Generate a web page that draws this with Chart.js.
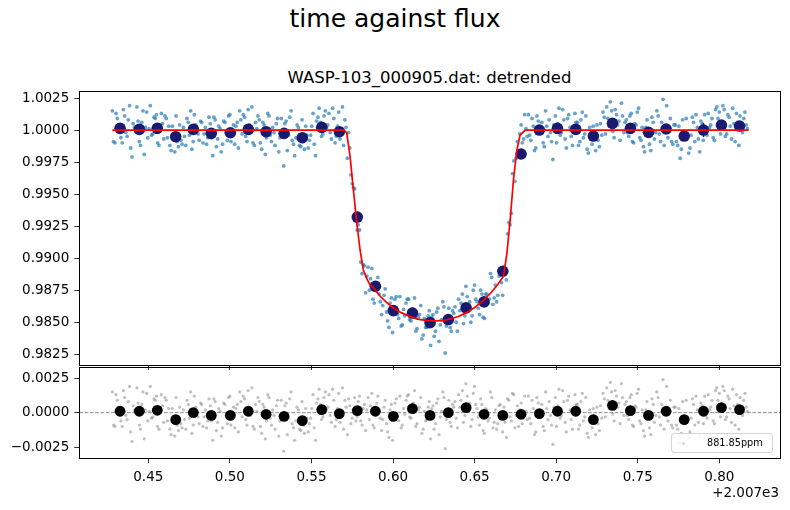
<!DOCTYPE html>
<html>
<head>
<meta charset="utf-8">
<script src="https://cdn.jsdelivr.net/npm/chart.js@4.4.0/dist/chart.umd.min.js"></script>
<style>
  body { margin: 0; background: #fff; width: 790px; height: 510px; position: relative; overflow: hidden; font-family: 'DejaVu Sans', sans-serif; }
  canvas { position: absolute; left: 0; }
  #topChart { top: 0; }
  #resChart { top: 340px; }
  .txt { position: absolute; white-space: nowrap; color: #000; }
  #suptitle { left: 0; width: 790px; text-align: center; top: 4px; font-size: 25px; line-height: 30px; }
  #axTitle { left: 79px; width: 701px; text-align: center; top: 68px; font-size: 16.5px; line-height: 20px; }
  #offset { right: 11px; top: 484px; font-size: 13.5px; line-height: 17px; }
  #legend { position: absolute; left: 671px; top: 433px; width: 100px; height: 18px; border: 1px solid #d4d4d4; border-radius: 3px; background: rgba(255,255,255,0.8); }
  #legend .dot { position: absolute; left: 10px; top: 8px; width: 3px; height: 3px; border-radius: 50%; background: rgba(128,128,128,0.3); }
  #legend .lbl { position: absolute; left: 35px; top: 3px; font-size: 9.7px; line-height: 12px; }
</style>
</head>
<body>
<div class="txt" id="suptitle">time against flux</div>
<div class="txt" id="axTitle">WASP-103_000905.dat: detrended</div>
<canvas id="topChart" width="790" height="390"></canvas>
<canvas id="resChart" width="790" height="170"></canvas>
<div class="txt" id="offset">+2.007e3</div>
<div id="legend"><div class="dot"></div><div class="txt lbl" id="legendLabel"></div></div>
<script>
// observation times (offset from 2007), first set of exposures
const time = [
  0.4280,0.4295,0.4310,0.4325,0.4340,0.4355,0.4370,0.4385,0.4400,0.4415,
  0.4430,0.4445,0.4460,0.4475,0.4490,0.4505,0.4520,0.4535,0.4550,0.4565,
  0.4580,0.4595,0.4610,0.4625,0.4640,0.4655,0.4670,0.4685,0.4700,0.4715,
  0.4730,0.4745,0.4760,0.4775,0.4790,0.4805,0.4820,0.4835,0.4850,0.4865,
  0.4880,0.4895,0.4910,0.4925,0.4940,0.4955,0.4970,0.4985,0.5000,0.5015,
  0.5030,0.5045,0.5060,0.5075,0.5090,0.5105,0.5120,0.5135,0.5150,0.5165,
  0.5180,0.5195,0.5210,0.5225,0.5240,0.5255,0.5270,0.5285,0.5300,0.5315,
  0.5330,0.5345,0.5360,0.5375,0.5390,0.5405,0.5420,0.5435,0.5450,0.5465,
  0.5480,0.5495,0.5510,0.5525,0.5540,0.5555,0.5570,0.5585,0.5600,0.5615,
  0.5630,0.5645,0.5660,0.5675,0.5690,0.5705,0.5720,0.5735,0.5750,0.5765,
  0.5780,0.5795,0.5810,0.5825,0.5840,0.5855,0.5870,0.5885,0.5900,0.5915,
  0.5930,0.5945,0.5960,0.5975,0.5990,0.6005,0.6020,0.6035,0.6050,0.6065,
  0.6080,0.6095,0.6110,0.6125,0.6140,0.6155,0.6170,0.6185,0.6200,0.6215,
  0.6230,0.6245,0.6260,0.6275,0.6290,0.6305,0.6320,0.6335,0.6350,0.6365,
  0.6380,0.6395,0.6410,0.6425,0.6440,0.6455,0.6470,0.6485,0.6500,0.6515,
  0.6530,0.6545,0.6560,0.6575,0.6590,0.6605,0.6620,0.6635,0.6650,0.6665,
  0.6680,0.6695,0.6710,0.6725,0.6740,0.6755,0.6770,0.6785,0.6800,0.6815,
  0.6830,0.6845,0.6860,0.6875,0.6890,0.6905,0.6920,0.6935,0.6950,0.6965,
  0.6980,0.6995,0.7010,0.7025,0.7040,0.7055,0.7070,0.7085,0.7100,0.7115,
  0.7130,0.7145,0.7160,0.7175,0.7190,0.7205,0.7220,0.7235,0.7250,0.7265,
  0.7280,0.7295,0.7310,0.7325,0.7340,0.7355,0.7370,0.7385,0.7400,0.7415,
  0.7430,0.7445,0.7460,0.7475,0.7490,0.7505,0.7520,0.7535,0.7550,0.7565,
  0.7580,0.7595,0.7610,0.7625,0.7640,0.7655,0.7670,0.7685,0.7700,0.7715,
  0.7730,0.7745,0.7760,0.7775,0.7790,0.7805,0.7820,0.7835,0.7850,0.7865,
  0.7880,0.7895,0.7910,0.7925,0.7940,0.7955,0.7970,0.7985,0.8000,0.8015,
  0.8030,0.8045,0.8060,0.8075,0.8090,0.8105,0.8120,0.8135,0.8150,0.8165
];
const flux = [
  1.0015,0.9990,1.0009,1.0003,0.9990,1.0011,0.9995,1.0019,0.9979,1.0002,
  1.0018,0.9991,1.0006,0.9981,1.0014,1.0001,0.9996,1.0010,1.0012,0.9988,
  1.0013,0.9993,1.0009,1.0003,0.9984,0.9996,1.0011,0.9987,0.9992,1.0002,
  0.9988,1.0006,1.0015,0.9991,1.0004,0.9997,1.0007,0.9990,1.0002,0.9994,
  1.0005,0.9980,1.0008,0.9993,1.0001,0.9989,1.0006,0.9992,1.0012,0.9996,
  0.9989,1.0006,1.0015,0.9997,1.0010,0.9991,1.0004,1.0018,0.9988,1.0001,
  1.0008,0.9985,1.0004,0.9994,1.0011,0.9991,0.9998,1.0005,0.9983,1.0009,
  0.9972,1.0007,0.9996,1.0015,0.9989,0.9994,1.0002,0.9987,0.9991,1.0003,
  0.9986,0.9996,1.0013,0.9980,1.0010,1.0006,0.9997,1.0015,1.0004,0.9998,
  1.0017,0.9990,1.0003,0.9993,1.0018,1.0008,0.9978,0.9986,0.9958,0.9954,
  0.9922,0.9922,0.9888,0.9894,0.9886,0.9875,0.9892,0.9865,0.9881,0.9872,
  0.9856,0.9871,0.9858,0.9846,0.9869,0.9859,0.9870,0.9853,0.9847,0.9860,
  0.9865,0.9868,0.9851,0.9860,0.9843,0.9854,0.9863,0.9840,0.9846,0.9855,
  0.9832,0.9856,0.9843,0.9861,0.9848,0.9866,0.9826,0.9854,0.9846,0.9859,
  0.9862,0.9843,0.9859,0.9872,0.9855,0.9870,0.9866,0.9855,0.9879,0.9866,
  0.9856,0.9872,0.9853,0.9872,0.9868,0.9885,0.9869,0.9866,0.9886,0.9881,
  0.9893,0.9883,0.9928,0.9935,0.9976,0.9978,0.9981,1.0004,0.9993,1.0001,
  1.0012,0.9992,1.0003,0.9986,1.0007,1.0001,0.9990,1.0015,0.9995,0.9998,
  0.9977,1.0011,1.0005,0.9996,1.0016,0.9993,1.0009,1.0002,0.9988,1.0013,
  1.0006,0.9991,1.0014,0.9997,0.9985,1.0002,0.9989,0.9994,1.0004,0.9987,
  0.9996,1.0010,1.0018,1.0003,1.0015,0.9994,1.0012,1.0007,1.0021,0.9998,
  1.0008,0.9995,1.0013,0.9990,1.0004,1.0017,0.9992,0.9987,1.0002,0.9996,
  0.9984,1.0006,0.9998,1.0011,0.9991,1.0024,1.0003,0.9994,1.0009,0.9989,
  1.0004,0.9988,0.9978,1.0008,0.9993,0.9997,0.9986,1.0010,0.9991,1.0002,
  0.9983,1.0005,1.0012,0.9996,1.0002,1.0009,0.9992,1.0018,1.0014,1.0006,
  1.0016,0.9997,1.0010,0.9993,1.0005,1.0013,0.9988,1.0002,1.0009,1.0004
];
const resid = [
  0.0015,-0.0010,0.0009,0.0003,-0.0010,0.0011,-0.0005,0.0019,-0.0021,0.0002,
  0.0018,-0.0009,0.0006,-0.0019,0.0014,0.0001,-0.0004,0.0010,0.0012,-0.0012,
  0.0013,-0.0007,0.0009,0.0003,-0.0016,-0.0004,0.0011,-0.0013,-0.0008,0.0002,
  -0.0012,0.0006,0.0015,-0.0009,0.0004,-0.0003,0.0007,-0.0010,0.0002,-0.0006,
  0.0005,-0.0020,0.0008,-0.0007,0.0001,-0.0011,0.0006,-0.0008,0.0012,-0.0004,
  -0.0011,0.0006,0.0015,-0.0003,0.0010,-0.0009,0.0004,0.0018,-0.0012,0.0001,
  0.0008,-0.0015,0.0004,-0.0006,0.0011,-0.0009,-0.0002,0.0005,-0.0017,0.0009,
  -0.0028,0.0007,-0.0004,0.0015,-0.0011,-0.0006,0.0002,-0.0013,-0.0009,0.0003,
  -0.0014,-0.0004,0.0013,-0.0020,0.0010,0.0006,-0.0003,0.0015,0.0004,-0.0002,
  0.0017,-0.0010,0.0003,-0.0007,0.0018,0.0009,-0.0016,0.0005,-0.0004,0.0011,
  -0.0003,0.0012,-0.0009,0.0006,0.0002,-0.0005,0.0014,-0.0011,0.0007,0.0001,
  -0.0013,0.0004,-0.0008,-0.0018,0.0006,-0.0002,0.0010,-0.0006,-0.0011,0.0003,
  0.0009,0.0013,-0.0004,0.0007,-0.0010,0.0002,0.0011,-0.0012,-0.0006,0.0004,
  -0.0019,0.0005,-0.0008,0.0010,-0.0003,0.0015,-0.0026,0.0002,-0.0007,0.0006,
  0.0008,-0.0011,0.0004,0.0016,-0.0002,0.0012,0.0007,-0.0005,0.0019,0.0003,
  -0.0009,0.0006,-0.0015,0.0002,-0.0004,0.0011,-0.0007,-0.0012,0.0005,-0.0003,
  0.0004,-0.0018,0.0009,-0.0006,0.0013,-0.0002,-0.0010,0.0007,-0.0004,0.0001,
  0.0012,-0.0008,0.0003,-0.0014,0.0007,0.0001,-0.0010,0.0015,-0.0005,-0.0002,
  -0.0023,0.0011,0.0005,-0.0004,0.0016,-0.0007,0.0009,0.0002,-0.0012,0.0013,
  0.0006,-0.0009,0.0014,-0.0003,-0.0015,0.0002,-0.0011,-0.0006,0.0004,-0.0013,
  -0.0004,0.0010,0.0018,0.0003,0.0015,-0.0006,0.0012,0.0007,0.0021,-0.0002,
  0.0008,-0.0005,0.0013,-0.0010,0.0004,0.0017,-0.0008,-0.0013,0.0002,-0.0004,
  -0.0016,0.0006,-0.0002,0.0011,-0.0009,0.0024,0.0003,-0.0006,0.0009,-0.0011,
  0.0004,-0.0012,-0.0022,0.0008,-0.0007,-0.0003,-0.0014,0.0010,-0.0009,0.0002,
  -0.0017,0.0005,0.0012,-0.0004,0.0002,0.0009,-0.0008,0.0018,0.0014,0.0006,
  0.0016,-0.0003,0.0010,-0.0007,0.0005,0.0013,-0.0012,0.0002,0.0009,0.0004
];

// second, interleaved set of exposures
const time2 = [
  0.4287,0.4302,0.4317,0.4332,0.4347,0.4362,0.4377,0.4392,0.4407,0.4422,
  0.4437,0.4452,0.4467,0.4482,0.4497,0.4512,0.4527,0.4542,0.4557,0.4572,
  0.4587,0.4602,0.4617,0.4632,0.4647,0.4662,0.4677,0.4692,0.4707,0.4722,
  0.4737,0.4752,0.4767,0.4782,0.4797,0.4812,0.4827,0.4842,0.4857,0.4872,
  0.4887,0.4902,0.4917,0.4932,0.4947,0.4962,0.4977,0.4992,0.5007,0.5022,
  0.5037,0.5052,0.5067,0.5082,0.5097,0.5112,0.5127,0.5142,0.5157,0.5172,
  0.5187,0.5202,0.5217,0.5232,0.5247,0.5262,0.5277,0.5292,0.5307,0.5322,
  0.5337,0.5352,0.5367,0.5382,0.5397,0.5412,0.5427,0.5442,0.5457,0.5472,
  0.5487,0.5502,0.5517,0.5532,0.5547,0.5562,0.5577,0.5592,0.5607,0.5622,
  0.5637,0.5652,0.5667,0.5682,0.5697,0.5712,0.5727,0.5742,0.5757,0.5772,
  0.5787,0.5802,0.5817,0.5832,0.5847,0.5862,0.5877,0.5892,0.5907,0.5922,
  0.5937,0.5952,0.5967,0.5982,0.5997,0.6012,0.6027,0.6042,0.6057,0.6072,
  0.6087,0.6102,0.6117,0.6132,0.6147,0.6162,0.6177,0.6192,0.6207,0.6222,
  0.6237,0.6252,0.6267,0.6282,0.6297,0.6312,0.6327,0.6342,0.6357,0.6372,
  0.6387,0.6402,0.6417,0.6432,0.6447,0.6462,0.6477,0.6492,0.6507,0.6522,
  0.6537,0.6552,0.6567,0.6582,0.6597,0.6612,0.6627,0.6642,0.6657,0.6672,
  0.6687,0.6702,0.6717,0.6732,0.6747,0.6762,0.6777,0.6792,0.6807,0.6822,
  0.6837,0.6852,0.6867,0.6882,0.6897,0.6912,0.6927,0.6942,0.6957,0.6972,
  0.6987,0.7002,0.7017,0.7032,0.7047,0.7062,0.7077,0.7092,0.7107,0.7122,
  0.7137,0.7152,0.7167,0.7182,0.7197,0.7212,0.7227,0.7242,0.7257,0.7272,
  0.7287,0.7302,0.7317,0.7332,0.7347,0.7362,0.7377,0.7392,0.7407,0.7422,
  0.7437,0.7452,0.7467,0.7482,0.7497,0.7512,0.7527,0.7542,0.7557,0.7572,
  0.7587,0.7602,0.7617,0.7632,0.7647,0.7662,0.7677,0.7692,0.7707,0.7722,
  0.7737,0.7752,0.7767,0.7782,0.7797,0.7812,0.7827,0.7842,0.7857,0.7872,
  0.7887,0.7902,0.7917,0.7932,0.7947,0.7962,0.7977,0.7992,0.8007,0.8022,
  0.8037,0.8052,0.8067,0.8082,0.8097,0.8112,0.8127,0.8142,0.8157,0.8172
];
const flux2 = [
  0.9991,1.0013,1.0004,0.9994,1.0016,0.9998,1.0008,0.9986,1.0005,1.0001,
  1.0007,0.9988,1.0015,1.0002,0.9994,1.0019,0.9997,1.0009,0.9990,1.0004,
  1.0005,1.0011,0.9994,0.9988,1.0003,0.9983,0.9991,1.0004,0.9989,0.9995,
  1.0009,0.9996,0.9985,1.0012,1.0001,0.9992,1.0006,0.9997,0.9989,1.0010,
  0.9994,1.0010,0.9987,1.0003,0.9983,1.0007,0.9998,1.0011,0.9991,1.0004,
  1.0003,0.9986,1.0008,1.0012,0.9995,1.0016,0.9998,0.9990,1.0006,1.0011,
  0.9990,1.0006,0.9981,1.0013,0.9996,1.0002,0.9988,1.0009,0.9994,0.9999,
  1.0005,0.9984,1.0010,0.9992,0.9980,1.0004,0.9988,1.0008,0.9985,0.9996,
  0.9992,1.0003,0.9989,1.0007,1.0017,0.9995,1.0011,1.0002,1.0013,0.9993,
  1.0009,0.9995,1.0014,1.0001,0.9988,1.0002,0.9998,0.9965,0.9955,0.9929,
  0.9926,0.9897,0.9895,0.9873,0.9893,0.9884,0.9868,0.9877,0.9885,0.9866,
  0.9863,0.9876,0.9851,0.9865,0.9842,0.9868,0.9856,0.9870,0.9848,0.9855,
  0.9868,0.9852,0.9860,0.9869,0.9845,0.9856,0.9837,0.9853,0.9846,0.9859,
  0.9854,0.9839,0.9858,0.9835,0.9852,0.9862,0.9847,0.9861,0.9843,0.9857,
  0.9850,0.9868,0.9865,0.9849,0.9878,0.9861,0.9850,0.9875,0.9868,0.9861,
  0.9875,0.9854,0.9872,0.9865,0.9888,0.9864,0.9879,0.9871,0.9888,0.9871,
  0.9888,0.9919,0.9926,0.9966,0.9960,0.9991,0.9997,0.9990,1.0012,0.9995,
  0.9996,1.0009,0.9984,1.0011,0.9998,1.0006,0.9987,1.0003,1.0008,0.9991,
  1.0004,0.9990,1.0017,0.9998,1.0008,0.9986,1.0012,0.9995,1.0003,1.0006,
  0.9988,1.0008,0.9994,1.0011,0.9982,0.9996,1.0003,0.9984,0.9992,1.0005,
  1.0014,0.9997,1.0009,1.0022,0.9999,1.0016,1.0004,0.9992,1.0011,1.0006,
  0.9998,1.0011,0.9991,1.0005,1.0014,0.9994,1.0002,0.9983,1.0008,0.9989,
  1.0010,0.9993,1.0015,0.9997,1.0006,0.9988,1.0019,0.9999,0.9991,1.0004,
  0.9991,1.0003,0.9985,0.9994,1.0009,0.9982,0.9996,1.0006,1.0012,0.9993,
  1.0007,0.9992,0.9998,1.0013,1.0004,0.9994,1.0016,1.0009,0.9997,1.0019,
  0.9995,1.0012,1.0003,1.0017,0.9991,1.0006,1.0011,0.9998,1.0014,1.0001
];
const resid2 = [
  -0.0009,0.0013,0.0004,-0.0006,0.0016,-0.0002,0.0008,-0.0014,0.0005,0.0001,
  0.0007,-0.0012,0.0015,0.0002,-0.0006,0.0019,-0.0003,0.0009,-0.0010,0.0004,
  0.0005,0.0011,-0.0006,-0.0012,0.0003,-0.0017,-0.0009,0.0004,-0.0011,-0.0005,
  0.0009,-0.0004,-0.0015,0.0012,0.0001,-0.0008,0.0006,-0.0003,-0.0011,0.0010,
  -0.0006,0.0010,-0.0013,0.0003,-0.0017,0.0007,-0.0002,0.0011,-0.0009,0.0004,
  0.0003,-0.0014,0.0008,0.0012,-0.0005,0.0016,-0.0002,-0.0010,0.0006,0.0011,
  -0.0010,0.0006,-0.0019,0.0013,-0.0004,0.0002,-0.0012,0.0009,-0.0006,-0.0001,
  0.0005,-0.0016,0.0010,-0.0008,-0.0020,0.0004,-0.0012,0.0008,-0.0015,-0.0004,
  -0.0008,0.0003,-0.0011,0.0007,0.0017,-0.0005,0.0011,0.0002,0.0013,-0.0007,
  0.0009,-0.0005,0.0014,0.0001,-0.0012,0.0004,0.0010,-0.0008,0.0002,-0.0006,
  0.0008,-0.0006,0.0003,-0.0013,0.0011,0.0005,-0.0009,0.0002,0.0012,-0.0004,
  -0.0005,0.0009,-0.0014,0.0002,-0.0020,0.0007,-0.0003,0.0012,-0.0009,-0.0001,
  0.0012,-0.0003,0.0006,0.0016,-0.0008,0.0004,-0.0015,0.0001,-0.0005,0.0008,
  0.0003,-0.0012,0.0007,-0.0016,0.0001,0.0011,-0.0005,0.0009,-0.0010,0.0004,
  -0.0004,0.0013,0.0009,-0.0007,0.0021,0.0002,-0.0010,0.0014,0.0006,-0.0003,
  0.0010,-0.0013,0.0003,-0.0006,0.0015,-0.0011,0.0002,-0.0008,0.0006,-0.0014,
  -0.0007,0.0010,-0.0003,0.0014,-0.0011,0.0005,0.0002,-0.0008,0.0012,-0.0005,
  -0.0004,0.0009,-0.0016,0.0011,-0.0002,0.0006,-0.0013,0.0003,0.0008,-0.0009,
  0.0004,-0.0010,0.0017,-0.0002,0.0008,-0.0014,0.0012,-0.0005,0.0003,0.0006,
  -0.0012,0.0008,-0.0006,0.0011,-0.0018,-0.0004,0.0003,-0.0016,-0.0008,0.0005,
  0.0014,-0.0003,0.0009,0.0022,-0.0001,0.0016,0.0004,-0.0008,0.0011,0.0006,
  -0.0002,0.0011,-0.0009,0.0005,0.0014,-0.0006,0.0002,-0.0017,0.0008,-0.0011,
  0.0010,-0.0007,0.0015,-0.0003,0.0006,-0.0012,0.0019,-0.0001,-0.0009,0.0004,
  -0.0009,0.0003,-0.0015,-0.0006,0.0009,-0.0018,-0.0004,0.0006,0.0012,-0.0007,
  0.0007,-0.0008,-0.0002,0.0013,0.0004,-0.0006,0.0016,0.0009,-0.0003,0.0019,
  -0.0005,0.0012,0.0003,0.0017,-0.0009,0.0006,0.0011,-0.0002,0.0014,0.0001
];

// binned points
const binTime = [0.4327,0.4445,0.4555,0.4668,0.4776,0.4886,0.5003,0.5113,0.5222,0.5332,0.5444,0.5563,0.5671,0.5781,0.5892,0.6002,0.6119,0.6227,0.6339,0.6448,0.6558,0.6673,0.6785,0.6897,0.7008,0.7120,0.7228,0.7345,0.7455,0.7566,0.7674,0.7785,0.7903,0.8013,0.8124];
const binFlux = [1.00013,1.00005,1.00013,0.99948,1.00005,0.99974,0.99979,1.00005,0.99987,0.99974,0.99940,1.00021,0.99987,0.99321,0.98780,0.98591,0.98572,0.98497,0.98521,0.98612,0.98659,0.98898,0.99813,1.00000,1.00013,1.00005,0.99953,1.00052,1.00013,0.99982,1.00008,0.99953,1.00000,1.00039,1.00031];
const binErr = [0.0003,0.0003,0.0003,0.0003,0.0003,0.0003,0.0003,0.0003,0.0003,0.0003,0.0003,0.0003,0.0003,0.0003,0.0003,0.0003,0.0003,0.0003,0.0003,0.0003,0.0003,0.0003,0.0003,0.0003,0.0003,0.0003,0.0003,0.0003,0.0003,0.0003,0.0003,0.0003,0.00055,0.0003,0.0003];
const binResid = [0.0001,0.0001,0.00017,-0.00051,0.0,-0.0002,-0.0002,0.0001,-0.00012,-0.00027,-0.00058,0.00022,-0.00007,0.00015,0.0001,-0.00027,0.00029,-0.0002,0.0,0.00036,-0.00012,-0.0002,-0.00012,-0.00007,0.0001,0.0001,-0.00051,0.00053,0.00015,-0.0002,0.0001,-0.00051,0.0001,0.00036,0.00022];

// transit model
const modelTime = [0.4280,0.5700,0.5716,0.5737,0.5757,0.5778,0.5798,0.5818,0.5839,0.5860,0.5880,0.5920,0.5960,0.6000,0.6050,0.6100,0.6150,0.6200,0.6250,0.6300,0.6350,0.6400,0.6450,0.6500,0.6550,0.6600,0.6640,0.6677,0.6698,0.6718,0.6738,0.6759,0.6779,0.6810,0.8179];
const modelFlux = [1.0,1.0,0.99977,0.99790,0.99532,0.99274,0.99064,0.98908,0.98840,0.98790,0.98770,0.98705,0.98655,0.98615,0.98575,0.98548,0.98525,0.98515,0.98510,0.98512,0.98525,0.98545,0.98575,0.98615,0.98665,0.98730,0.98790,0.98860,0.99038,0.99298,0.99610,0.99844,0.99961,1.0,1.0];

// ticks
const xTicks = [0.45,0.50,0.55,0.60,0.65,0.70,0.75,0.80];
const yTicksTop = [0.9825,0.9850,0.9875,0.9900,0.9925,0.9950,0.9975,1.0000,1.0025];
const yTicksRes = [-0.0025,0.0,0.0025];
const legendText = '881.85ppm';

document.getElementById('legendLabel').textContent = legendText;

Chart.defaults.font.family = "'DejaVu Sans', sans-serif";
Chart.defaults.font.size = 13.5;
Chart.defaults.color = '#000';

const pts = (xs, ys) => xs.map((x, i) => ({ x: x, y: ys[i] }));

// box around the axes (all four spines), snapped to pixels
const frame = {
  id: 'frame',
  afterDraw(chart) {
    const a = chart.chartArea, g = chart.ctx;
    const l = Math.round(a.left) + 0.5, r = Math.round(a.right) + 0.5;
    const t = Math.round(a.top) + 0.5, b = Math.round(a.bottom) + 0.5;
    g.save();
    g.strokeStyle = '#000';
    g.lineWidth = 1;
    g.strokeRect(l, t, r - l, b - t);
    g.restore();
  }
};

const errBars = {
  id: 'errBars',
  afterDatasetDraw(chart, args) {
    if (args.index !== 1) return;
    const g = chart.ctx, xs = chart.scales.x, ys = chart.scales.y;
    g.save();
    g.strokeStyle = '#191970';
    g.lineWidth = 1.5;
    binTime.forEach((t, i) => {
      const px = xs.getPixelForValue(t);
      g.beginPath();
      g.moveTo(px, ys.getPixelForValue(binFlux[i] - binErr[i]));
      g.lineTo(px, ys.getPixelForValue(binFlux[i] + binErr[i]));
      g.stroke();
    });
    g.restore();
  }
};

const zeroLine = {
  id: 'zeroLine',
  afterDatasetDraw(chart, args) {
    if (args.index !== 1) return;
    const g = chart.ctx, a = chart.chartArea;
    const py = chart.scales.y.getPixelForValue(0);
    g.save();
    g.strokeStyle = '#808080';
    g.lineWidth = 0.9;
    g.setLineDash([3.7, 1.6]);
    g.beginPath();
    g.moveTo(a.left, py);
    g.lineTo(a.right, py);
    g.stroke();
    g.restore();
  }
};

const tickGrid = { drawOnChartArea: false, drawTicks: true, tickLength: 5, color: '#000', lineWidth: 0.8 };
const xRange = { min: 0.4077, max: 0.8372 };

new Chart(document.getElementById('topChart'), {
  type: 'scatter',
  data: {
    datasets: [
      { label: 'model', data: pts(modelTime, modelFlux), showLine: true, borderColor: '#ff0000', borderWidth: 1.7, pointRadius: 0, fill: false, order: 0 },
      { label: 'binned', data: pts(binTime, binFlux), backgroundColor: '#191970', borderWidth: 0, pointRadius: 5.8, order: 1 },
      { label: 'data', data: pts(time, flux).concat(pts(time2, flux2)), backgroundColor: 'rgba(31,119,180,0.68)', borderWidth: 0, pointRadius: 1.9, order: 2 }
    ]
  },
  options: {
    responsive: false, animation: false, devicePixelRatio: 1, events: [],
    layout: { padding: { top: 91.3, right: 10, left: 0, bottom: 0 } },
    plugins: { legend: { display: false }, tooltip: { enabled: false } },
    scales: {
      x: {
        type: 'linear', min: xRange.min, max: xRange.max,
        afterBuildTicks: s => { s.ticks = xTicks.map(v => ({ value: v })); },
        ticks: { display: false },
        grid: tickGrid, border: { display: false },
        afterFit: s => { s.height = 25; }
      },
      y: {
        type: 'linear', min: 0.981664, max: 1.003023,
        afterBuildTicks: s => { s.ticks = yTicksTop.map(v => ({ value: v })); },
        ticks: { padding: 5, callback: v => v.toFixed(4) },
        grid: tickGrid, border: { display: false },
        afterFit: s => { s.width = 79.3; }
      }
    }
  },
  plugins: [errBars, frame]
});

new Chart(document.getElementById('resChart'), {
  type: 'scatter',
  data: {
    datasets: [
      { label: 'binned', data: pts(binTime, binResid), backgroundColor: '#000', borderWidth: 0, pointRadius: 5.4, order: 0 },
      { label: legendText, data: pts(time, resid).concat(pts(time2, resid2)), backgroundColor: 'rgba(128,128,128,0.5)', borderWidth: 0, pointRadius: 1.6, order: 1 }
    ]
  },
  options: {
    responsive: false, animation: false, devicePixelRatio: 1, events: [],
    layout: { padding: { top: 27, right: 10, left: 0, bottom: 0 } },
    plugins: { legend: { display: false }, tooltip: { enabled: false } },
    scales: {
      x: {
        type: 'linear', min: xRange.min, max: xRange.max,
        afterBuildTicks: s => { s.ticks = xTicks.map(v => ({ value: v })); },
        ticks: { padding: 6, maxRotation: 0, callback: v => v.toFixed(2) },
        grid: tickGrid, border: { display: false },
        afterFit: s => { s.height = 51.7; }
      },
      y: {
        type: 'linear', min: -0.00331, max: 0.00331,
        afterBuildTicks: s => { s.ticks = yTicksRes.map(v => ({ value: v })); },
        ticks: { padding: 5, callback: v => (v < 0 ? '\u2212' : '') + Math.abs(v).toFixed(4) },
        grid: tickGrid, border: { display: false },
        afterFit: s => { s.width = 79.3; }
      }
    }
  },
  plugins: [zeroLine, frame]
});
</script>
</body>
</html>
